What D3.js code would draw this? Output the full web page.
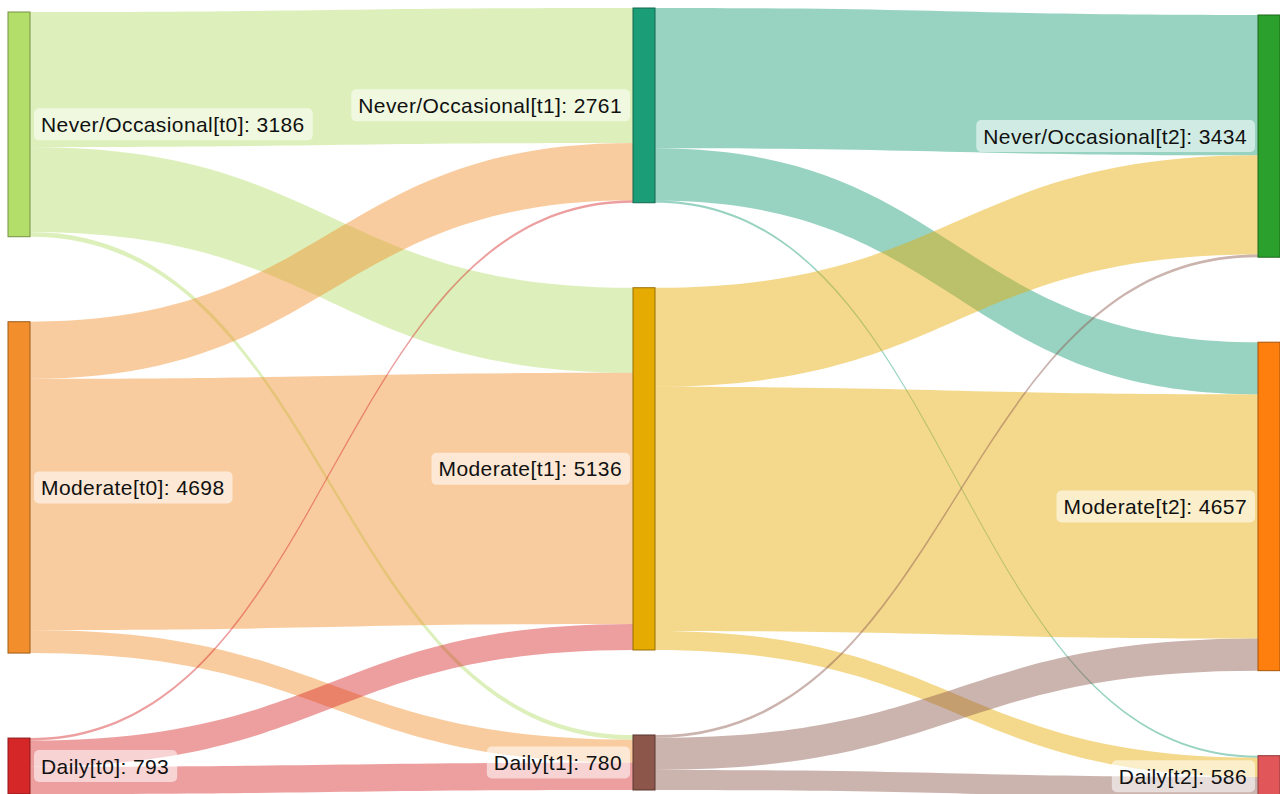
<!DOCTYPE html>
<html>
<head>
<meta charset="utf-8">
<script src="https://cdn.jsdelivr.net/npm/d3@7"></script>
<style>
  html, body { margin: 0; padding: 0; background: #fff; overflow: hidden; }
  svg { display: block; }
</style>
</head>
<body>
<svg id="chart"></svg>
<script>
// ---- data ----
const stages = ['t0', 't1', 't2']
const categories = ['Never/Occasional', 'Moderate', 'Daily']

// node colours, one row per stage
const nodeColors = [
    ['#b3de69', '#f28e2b', '#d62728'],
    ['#1b9e77', '#e6ab02', '#8c564b'],
    ['#2ca02c', '#ff7f0e', '#e15759']
]

// flows: rows = source category, cols = target category
const flowsT0T1 = [
    [1915, 1205, 66],
    [810, 3561, 327],
    [36, 370, 387]
]
const flowsT1T2 = [
    [1990, 740, 31],
    [1404, 3462, 270],
    [40, 455, 285]
]
const stageFlows = [flowsT0T1, flowsT1T2]

// ---- layout ----
const width = 1280
const height = 794
const nodeWidth = 22
const nodePad = 85
const colTop = [12, 8, 15]     // column offsets (plotly shifts columns a bit)

const svg = d3.select('#chart')
    .attr('width', width)
    .attr('height', height)

const total = d3.sum(flowsT0T1.flat())

const xScale = d3.scaleLinear()
    .domain([0, stages.length - 1])
    .range([8, width - nodeWidth])
const yScale = d3.scaleLinear()
    .domain([0, total])
    .range([0, 612])

// build nodes
const nodes = []
stages.forEach((s, si) => {
    let acc = 0
    categories.forEach((c, ci) => {
        const outV = si < stageFlows.length ? d3.sum(stageFlows[si][ci]) : 0
        const inV = si > 0 ? d3.sum(stageFlows[si - 1], row => row[ci]) : 0
        const value = Math.max(outV, inV)
        const y0 = colTop[si] + yScale(acc) + ci * nodePad
        nodes.push({
            stage: si, cat: ci, name: `${c}[${s}]`, value,
            color: nodeColors[si][ci],
            x0: xScale(si), x1: xScale(si) + nodeWidth,
            y0, y1: y0 + yScale(value),
            outY: y0, inY: y0
        })
        acc += value
    })
})
const nodeAt = (si, ci) => nodes[si * categories.length + ci]

// build links, stacked in category order on both ends
const links = []
stageFlows.forEach((flows, si) => {
    flows.forEach((row, sc) => {
        row.forEach((v, tc) => {
            const source = nodeAt(si, sc)
            const target = nodeAt(si + 1, tc)
            links.push({ source, target, value: v, sy0: 0, ty0: 0 })
        })
    })
})
// source side: ordered by target index
links.forEach(l => {
    const h = yScale(l.value)
    l.sy0 = l.source.outY; l.sy1 = l.sy0 + h; l.source.outY += h
})
// target side: ordered by source index
d3.sort(links, l => l.target.stage, l => l.target.cat, l => l.source.cat).forEach(l => {
    const h = yScale(l.value)
    l.ty0 = l.target.inY; l.ty1 = l.ty0 + h; l.target.inY += h
})

const ribbon = (l) => {
    const xs = l.source.x1, xt = l.target.x0, xm = (xs + xt) / 2
    const p = d3.path()
    p.moveTo(xs, l.sy0)
    p.bezierCurveTo(xm, l.sy0, xm, l.ty0, xt, l.ty0)
    p.lineTo(xt, l.ty1)
    p.bezierCurveTo(xm, l.ty1, xm, l.sy1, xs, l.sy1)
    p.closePath()
    return p.toString()
}

// draw links
svg.append('g')
    .selectAll('path')
    .data(links)
    .join('path')
        .attr('d', ribbon)
        .style('fill', d => d.source.color)
        .style('fill-opacity', 0.45)

// draw nodes
svg.append('g')
    .selectAll('rect')
    .data(nodes)
    .join('rect')
        .attr('x', d => d.x0)
        .attr('y', d => d.y0)
        .attr('width', d => d.x1 - d.x0)
        .attr('height', d => d.y1 - d.y0)
        .style('fill', d => d.color)
        .style('stroke', d => d3.color(d.color).darker(1.2))
        .style('stroke-width', 1)

// labels with rounded background
const labels = svg.append('g')
    .selectAll('g')
    .data(nodes)
    .join('g')

labels.append('rect')
    .attr('class', 'bg')
    .attr('rx', 5)
    .style('fill', 'white')
    .style('fill-opacity', 0.55)

labels.append('text')
    .attr('x', d => d.stage === 0 ? d.x1 + 11 : d.x0 - 11)
    .attr('y', d => (d.y0 + d.y1) / 2)
    .attr('text-anchor', d => d.stage === 0 ? 'start' : 'end')
    .attr('dominant-baseline', 'central')
    .style('font-family', '"Liberation Sans", Arial, Helvetica, sans-serif')
    .style('font-size', '21px')
    .style('letter-spacing', '0.4px')
    .style('fill', '#111')
    .text(d => `${d.name}: ${d.value}`)

labels.each(function (d) {
    const g = d3.select(this)
    const bb = g.select('text').node().getBBox()
    g.select('rect.bg')
        .attr('x', bb.x - 7)
        .attr('y', (d.y0 + d.y1) / 2 - 16)
        .attr('width', bb.width + 15)
        .attr('height', 32)
})
</script>
</body>
</html>
